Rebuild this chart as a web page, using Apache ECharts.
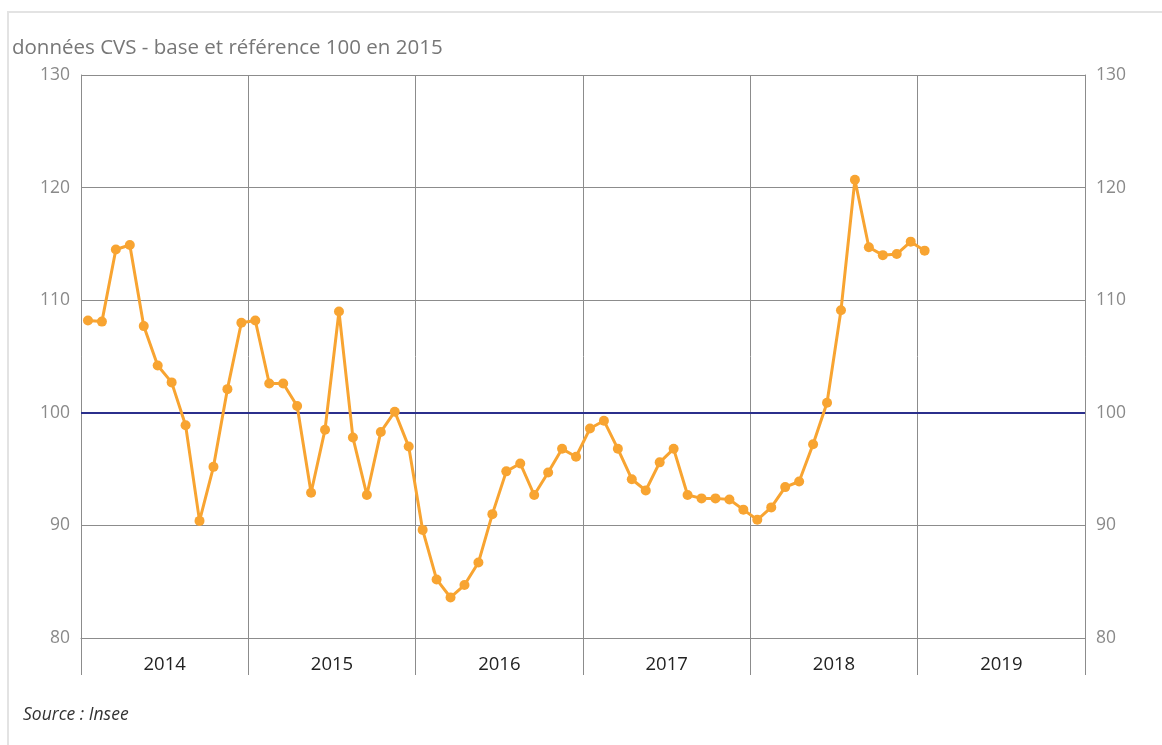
<!DOCTYPE html>
<html>
<head>
<meta charset="utf-8">
<script src="https://cdn.jsdelivr.net/npm/echarts@6/dist/echarts.min.js"></script>
<style>
html,body{margin:0;padding:0;background:#fff;}
#chart{width:1162px;height:745px;}
</style>
</head>
<body>
<div id="chart"></div>
<script>
const years = ['2014','2015','2016','2017','2018','2019'];
const months = ['01','02','03','04','05','06','07','08','09','10','11','12'];
const values = [
  108.2,108.1,114.5,114.9,107.7,104.2,102.7,98.9,90.4,95.2,102.1,108.0,
  108.2,102.6,102.6,100.6,92.9,98.5,109.0,97.8,92.7,98.3,100.1,97.0,
  89.6,85.2,83.6,84.7,86.7,91.0,94.8,95.5,92.7,94.7,96.8,96.1,
  98.6,99.3,96.8,94.1,93.1,95.6,96.8,92.7,92.4,92.4,92.3,91.4,
  90.5,91.6,93.4,93.9,97.2,100.9,109.1,120.7,114.7,114.0,114.1,115.2,
  114.4
];
const reference = 100;
const yTicks = {min: 80, max: 130, interval: 10};
const titleText = 'données CVS - base et référence 100 en 2015';
const sourceText = 'Source : Insee';

const monthCats = [];
years.forEach(y => months.forEach(m => monthCats.push(y + '-' + m)));

const gridColor = '#8c8c8c';
const font = '"Open Sans", "Noto Sans", sans-serif';

const chart = echarts.init(document.getElementById('chart'));
chart.setOption({
  animation: false,
  textStyle: {fontFamily: font},
  grid: {left: 81, right: 77, top: 75, bottom: 107, containLabel: false},
  title: {
    text: titleText, left: 7, top: 33,
    textStyle: {fontSize: 20.5, fontWeight: 'normal', color: '#777', fontFamily: font}
  },
  graphic: [
    {type: 'rect', shape: {x: 8, y: 12, width: 1160, height: 745},
     style: {fill: 'none', stroke: '#e3e3e3', lineWidth: 2}, silent: true},
    {type: 'text', left: 23, top: 706,
     style: {text: sourceText, fontSize: 17.5, fontStyle: 'italic', fill: '#333', fontFamily: font}}
  ],
  xAxis: [
    {type: 'category', data: monthCats, boundaryGap: true, show: false},
    {type: 'category', data: years, boundaryGap: true, position: 'bottom',
     axisLine: {show: true, lineStyle: {color: gridColor, width: 1}},
     axisTick: {show: true, interval: 0, length: 37, lineStyle: {color: gridColor, width: 1}},
     splitLine: {show: true, interval: 0, lineStyle: {color: gridColor, width: 1}},
     axisLabel: {margin: 17, fontSize: 18.5, color: '#222', fontFamily: font}}
  ],
  yAxis: [
    {type: 'value', min: yTicks.min, max: yTicks.max, interval: yTicks.interval, position: 'left',
     axisLine: {show: true, lineStyle: {color: gridColor}},
     axisTick: {show: false},
     splitLine: {show: true, lineStyle: {color: gridColor, width: 1}},
     axisLabel: {margin: 11, fontSize: 17.5, color: '#8a8a8a', fontFamily: font}},
    {type: 'value', min: yTicks.min, max: yTicks.max, interval: yTicks.interval, position: 'right',
     axisLine: {show: true, lineStyle: {color: gridColor}},
     axisTick: {show: false},
     splitLine: {show: false},
     axisLabel: {margin: 11, fontSize: 17.5, color: '#8a8a8a', fontFamily: font}}
  ],
  series: [
    {type: 'line', xAxisIndex: 0, yAxisIndex: 0, data: values,
     symbol: 'circle', symbolSize: 10, showSymbol: true, showAllSymbol: true,
     lineStyle: {color: '#f8a431', width: 3},
     itemStyle: {color: '#f8a431'},
     z: 5,
     markLine: {silent: true, symbol: 'none', label: {show: false},
       lineStyle: {color: '#2b2f8c', width: 2, type: 'solid'},
       data: [{yAxis: reference}]}}
  ]
});
</script>
</body>
</html>
